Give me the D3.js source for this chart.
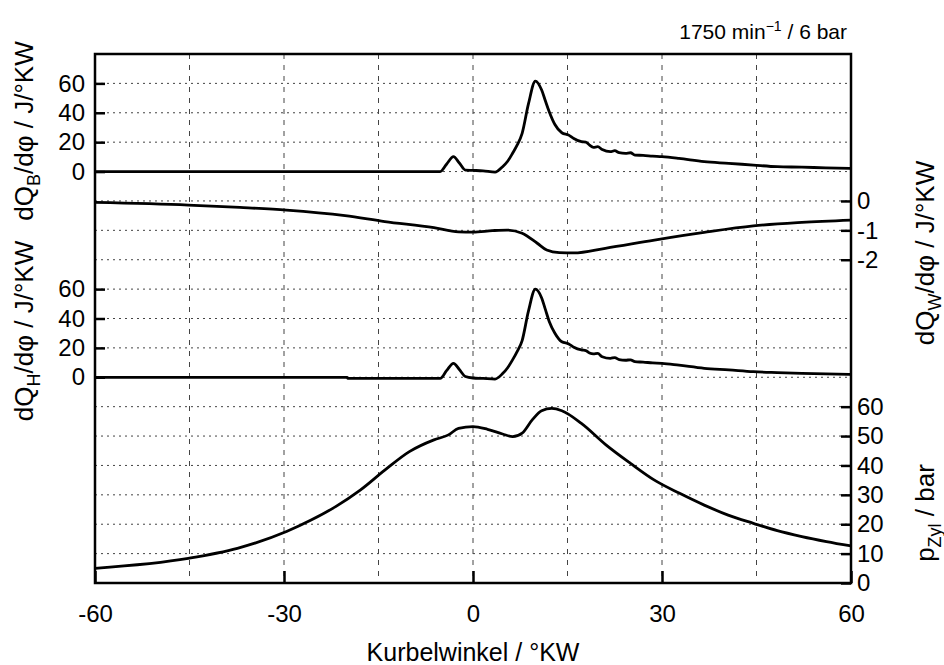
<!DOCTYPE html>
<html><head><meta charset="utf-8">
<script src="https://cdn.jsdelivr.net/npm/d3@7"></script>
<style>
html,body{margin:0;padding:0;background:#fff;}
text{font-family:"Liberation Sans",Arial,sans-serif;fill:#000;}
</style></head>
<body>
<svg id="chart" width="944" height="665"></svg>
<script>
// ---- data ----
const qbAngle = [-60,-20,-5.2,-4.2,-3.1,-2.2,-1.2,0,1.6,3.5,4.7,5.5,6.3,7.0,7.8,8.8,9.9,10.9,11.5,12.1,13.0,14.1,15.2,16.0,17.2,17.9,18.5,19.1,19.8,20.5,21.8,22.5,23.2,24.2,25.0,25.7,27,28.5,30,32.7,36.7,40.6,44.5,48.3,52.2,56,60];
const qbValue = [0,0,0,5,10.1,6,1,0.8,0.5,-0.4,3.3,7,12.6,18,26,46,61.6,55.5,48,40.7,32,26.4,24.8,22.5,20.3,20,18,16.5,16.9,15,13.5,14.2,12.8,12.4,12.8,11.2,11.0,10.5,10.1,8.9,6.7,5.6,4.4,3.3,3.0,2.5,2.2];

const qhAngle = [-60,-20,-19.9,-5.2,-4.2,-3.1,-2.2,-1.2,0,1.6,3.5,4.7,5.5,6.3,7.0,7.8,8.8,9.9,10.9,11.5,12.1,13.0,14.1,15.2,16.0,17.2,17.9,18.5,19.1,19.8,20.5,21.8,22.5,23.2,24.2,25.0,25.7,27,28.5,30,32.7,36.7,40.6,44.5,48.3,52.2,56,60];
const qhValue = [0,0,-0.7,-0.7,4.5,9.5,5.5,0.5,-0.5,-0.8,-1.2,2.5,6.5,12,17.5,25,45,60,54,46,38,30,24.2,22.7,20.5,18.6,18.2,16.5,15.9,16.2,14,12.9,13.4,12,11.6,11.9,10.6,10.3,9.8,9.5,8.2,6.1,5,3.8,3.2,2.7,2.3,2.0];

const qwAngle = [-60,-45.2,-37,-29.6,-20.3,-14,-6.2,-2.3,0,3.1,5.4,7.8,10.2,11.7,13.7,16,21,28.8,36.7,44.5,52.2,60];
const qwValue = [-0.05,-0.14,-0.22,-0.31,-0.5,-0.7,-0.91,-1.05,-1.06,-1.01,-0.99,-1.1,-1.44,-1.67,-1.76,-1.77,-1.61,-1.33,-1.07,-0.85,-0.73,-0.65];

const pAngle = [-60,-45.2,-37.4,-29.6,-25.7,-21.8,-17.9,-14,-10.1,-6.2,-3.9,-2.3,0,2.3,4.7,6.3,7.8,9.4,10.9,12.5,14.1,17.2,21.1,25,28.8,32.8,36.7,40.5,44.5,48.3,52.2,56.1,60];
const pValue = [5.0,8.4,11.8,17.5,21.4,26,31.6,38.4,44.7,48.7,50.4,52.6,53.2,52.3,50.7,49.8,51,55.5,58.6,59.4,58.6,54.3,47,40.7,35,30.5,26.5,23.1,20.3,17.8,15.8,14.1,12.6];

const xTicks = [-60,-30,0,30,60];
const xGrid = [-45,-30,-15,0,15,30,45];
const qbTicks = [0,20,40,60];
const qhTicks = [0,20,40,60];
const qwTicks = [0,-1,-2];
const pTicks = [0,10,20,30,40,50,60];

// ---- layout ----
const svg = d3.select("#chart");
const L = 95, R = 851, T = 54, B = 583;
const FS = 24;
const x = d3.scaleLinear().domain([-60,60]).range([L,R]);
const yk = d3.scaleLinear().domain([0,18]).range([B,T]);
const yB = d3.scaleLinear().domain([0,20]).range([yk(14),yk(15)]);
const yW = d3.scaleLinear().domain([0,-1]).range([yk(13),yk(12)]);
const yH = d3.scaleLinear().domain([0,20]).range([yk(7),yk(8)]);
const yP = d3.scaleLinear().domain([0,10]).range([yk(0),yk(1)]);

// grid
const grid = svg.append("g");
grid.selectAll("line.h").data(d3.range(1,18)).join("line")
  .attr("x1",L).attr("x2",R).attr("y1",d=>yk(d)).attr("y2",d=>yk(d))
  .attr("stroke","#444").attr("stroke-width",1).attr("stroke-dasharray","2,4");
grid.selectAll("line.v").data(xGrid).join("line")
  .attr("x1",d=>x(d)).attr("x2",d=>x(d)).attr("y1",T).attr("y2",B)
  .attr("stroke","#444").attr("stroke-width",1).attr("stroke-dasharray","5,6");

// axes
function styleAxis(g){
  g.select(".domain").remove();
  g.selectAll(".tick line").attr("stroke","#000").attr("stroke-width",2.5);
  g.selectAll(".tick text").attr("font-size",FS).style("font-family","'Liberation Sans',Arial,sans-serif");
}
const fmt = d => String(d).replace("−","-");
svg.append("g").attr("transform",`translate(${L},0)`)
  .call(d3.axisLeft(yB).tickValues(qbTicks).tickSize(-10).tickPadding(10).tickFormat(fmt)).call(styleAxis);
svg.append("g").attr("transform",`translate(${L},0)`)
  .call(d3.axisLeft(yH).tickValues(qhTicks).tickSize(-10).tickPadding(10).tickFormat(fmt)).call(styleAxis);
svg.append("g").attr("transform",`translate(${R},0)`)
  .call(d3.axisRight(yW).tickValues(qwTicks).tickSize(-10).tickPadding(6).tickFormat(fmt)).call(styleAxis);
svg.append("g").attr("transform",`translate(${R},0)`)
  .call(d3.axisRight(yP).tickValues(pTicks).tickSize(-10).tickPadding(6).tickFormat(fmt)).call(styleAxis);
svg.append("g").attr("transform",`translate(0,${B})`)
  .call(d3.axisBottom(x).tickValues(xTicks).tickSize(-12).tickPadding(22).tickFormat(fmt)).call(styleAxis);

// curves
const mk = (ang, val, ys) => d3.line().x((d,i)=>x(ang[i])).y((d,i)=>ys(val[i])).curve(d3.curveMonotoneX)(val);
const curves = [[qbAngle,qbValue,yB],[qwAngle,qwValue,yW],[qhAngle,qhValue,yH],[pAngle,pValue,yP]];
svg.append("g").selectAll("path").data(curves).join("path")
  .attr("d",d=>mk(d[0],d[1],d[2]))
  .attr("fill","none").attr("stroke","#000").attr("stroke-width",2.8).attr("stroke-linejoin","round");

// frame
svg.append("rect").attr("x",L).attr("y",T).attr("width",R-L).attr("height",B-T)
  .attr("fill","none").attr("stroke","#000").attr("stroke-width",2.5);

// titles
svg.append("text").attr("x",847).attr("y",39).attr("text-anchor","end").attr("font-size",21)
  .html('1750 min<tspan dy="-8" font-size="14">−1</tspan><tspan dy="8"> / 6 bar</tspan>');
svg.append("text").attr("x",(L+R)/2).attr("y",661).attr("text-anchor","middle").attr("font-size",25)
  .text("Kurbelwinkel / °KW");

function rotLabel(cx, cy, main, sub, rest){
  svg.append("text").attr("transform",`translate(${cx},${cy}) rotate(-90)`)
    .attr("text-anchor","middle").attr("font-size",26)
    .html(`${main}<tspan dy="7" font-size="18">${sub}</tspan><tspan dy="-7">${rest}</tspan>`);
}
rotLabel(33,131,"dQ","B","/dφ / J/°KW");
rotLabel(33,331,"dQ","H","/dφ / J/°KW");
rotLabel(934,253,"dQ","W","/dφ / J/°KW");
rotLabel(934,513,"p","Zyl"," / bar");
</script>
</body></html>
